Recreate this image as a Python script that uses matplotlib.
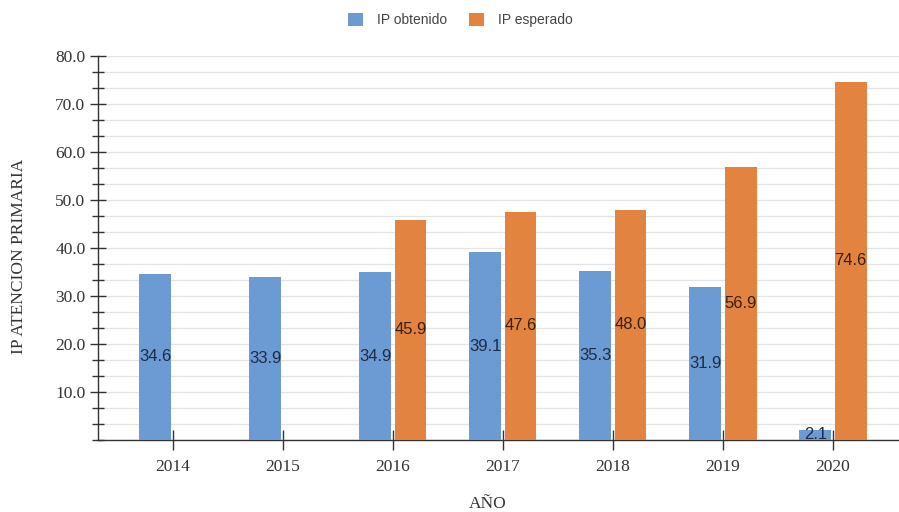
import matplotlib
matplotlib.use("Agg")
import matplotlib.pyplot as plt
import numpy as np
from matplotlib.ticker import MultipleLocator

years = ["2014", "2015", "2016", "2017", "2018", "2019", "2020"]
ip_obtenido = [34.6, 33.9, 34.9, 39.1, 35.3, 31.9, 2.1]
ip_esperado = [None, None, 45.9, 47.6, 48.0, 56.9, 74.6]
series_names = ["IP obtenido", "IP esperado"]
y_ticks = [10, 20, 30, 40, 50, 60, 70, 80]

blue = "#6b9bd2"
orange = "#e2833f"

fig = plt.figure(figsize=(8.99, 5.12), dpi=100)
ax = fig.add_axes([0.109, 0.1406, 0.891, 0.75])

x = np.arange(len(years))
w = 0.29
gap = 0.015
ax.bar(x - w / 2 - gap, ip_obtenido, width=w, color=blue, zorder=3, label=series_names[0])
exp_x = [xi for xi, v in zip(x, ip_esperado) if v is not None]
exp_v = [v for v in ip_esperado if v is not None]
ax.bar(np.array(exp_x) + w / 2 + gap, exp_v, width=w, color=orange, zorder=3, label=series_names[1])

for xi, v in zip(x, ip_obtenido):
    ax.text(xi - w / 2 - gap, v / 2, f"{v:.1f}", ha="center", va="center",
            fontsize=12, color="#1c2b48", family="Liberation Sans", zorder=4)
for xi, v in zip(exp_x, exp_v):
    ax.text(xi + w / 2 + gap, v / 2, f"{v:.1f}", ha="center", va="center",
            fontsize=12, color="#3b1f10", family="Liberation Sans", zorder=4)

ax.set_xlim(-0.68, 6.6)
ax.set_ylim(0, 80)
ax.set_xticks(x)
ax.set_xticklabels(years, family="Liberation Serif", fontsize=12.5, color="#333333")
ax.set_yticks(y_ticks)
ax.set_yticklabels([f"{t:.1f}" for t in y_ticks], family="Liberation Serif", fontsize=12.5, color="#333333")
ax.yaxis.set_minor_locator(MultipleLocator(10 / 3))
ax.grid(True, which="both", axis="y", color="#e3e3e3", linewidth=0.9, zorder=0)
ax.tick_params(axis="y", which="major", direction="inout", length=12, width=1.0, color="#333333", pad=3)
ax.tick_params(axis="y", which="minor", direction="inout", length=8, width=1.0, color="#333333")
ax.tick_params(axis="x", which="major", direction="inout", length=14, width=1.0, color="#333333", pad=7)
for s in ["top", "right"]:
    ax.spines[s].set_visible(False)
for s in ["left", "bottom"]:
    ax.spines[s].set_color("#333333")
    ax.spines[s].set_linewidth(1.0)

fig.text(0.021, 0.50, "IP ATENCION PRIMARIA", family="Liberation Serif", fontsize=12.5,
         color="#333333", rotation=90, ha="center", va="center")
fig.text(0.542, 0.015, "AÑO", family="Liberation Serif", fontsize=12.5,
         color="#333333", ha="center", va="center")

leg = fig.legend(loc="upper center", bbox_to_anchor=(0.512, 1.0), ncol=2, frameon=False,
                 prop={"family": "Liberation Sans", "size": 10}, handlelength=1.1, handleheight=1.1,
                 columnspacing=1.6, handletextpad=1.0)
for t in leg.get_texts():
    t.set_color("#444444")

fig.savefig("out.png", dpi=100)
